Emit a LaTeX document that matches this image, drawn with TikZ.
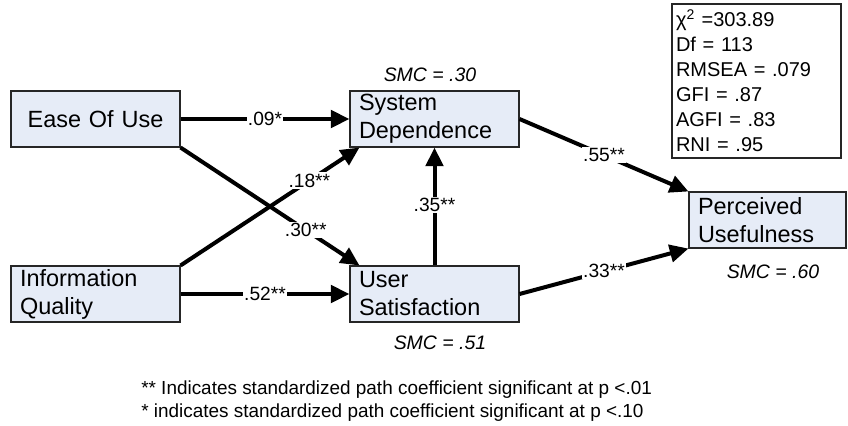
\documentclass[tikz,border=0pt]{standalone}
\usepackage{fontspec}
\setmainfont{Liberation Sans}
\usetikzlibrary{arrows.meta}
\definecolor{boxfill}{RGB}{230,236,247}
\begin{document}
\begin{tikzpicture}[x=0.75pt,y=-0.75pt,
  box/.style={draw=black!85, line width=0.8pt, fill=boxfill, inner xsep=6.75pt, inner ysep=0pt,
    minimum height=42pt, align=left, font=\fontsize{17.6}{21}\selectfont},
  wide/.style={text width=113.25pt},
  narrow/.style={text width=104.25pt},
  pathline/.style={line width=3pt, -{Triangle[length=14pt,width=13pt]}},
  coef/.style={fill=white, inner sep=1pt, font=\fontsize{14.4}{17}\selectfont},
  smc/.style={font=\fontsize{14.6}{17}\selectfont\itshape},
  stats/.style={draw=black!85, line width=0.8pt, fill=white, inner xsep=3pt, inner ysep=0pt,
    minimum height=115.5pt, text width=120.75pt, align=left, font=\fontsize{15}{18.75}\selectfont},
  note/.style={align=left, inner sep=0pt, font=\fontsize{14.2}{17.25}\selectfont},
]
\useasboundingbox (0,0) rectangle (848,425);

\node[box, wide, align=center] (eou) at (95.5,119) {Ease Of Use};
\node[box, wide] (sd) at (434.5,119) {System\\Dependence};
\node[box, wide] (iq) at (95.5,294) {Information\\Quality};
\node[box, wide] (us) at (434.5,294) {User\\Satisfaction};
\node[box, narrow] (pu) at (767.5,220) {Perceived\\Usefulness};

\node[stats] (fit) at (756.5,81) {χ\textsuperscript{2} =303.89\\Df = 113\\RMSEA = .079\\GFI = .87\\AGFI = .83\\RNI = .95};

\node[smc] (smcsd) at (430,75) {SMC = .30};
\node[smc] (smcus) at (440,343) {SMC = .51};
\node[smc] (smcpu) at (773,272) {SMC = .60};

\draw[pathline] (eou.east) -- node[coef, pos=0.5] {.09*} (sd.west);
\draw[pathline] (eou.south east) -- node[coef, pos=0.7] {.30**} ([xshift=7.5pt]us.north west);
\draw[pathline] (iq.north east) -- node[coef, pos=0.72] {.18**} ([xshift=7.5pt]sd.south west);
\draw[pathline] (iq.east) -- node[coef, pos=0.5] {.52**} (us.west);
\draw[pathline] (us.north) -- node[coef, pos=0.51] {.35**} (sd.south);
\draw[pathline] (sd.east) -- node[coef, pos=0.5] {.55**} (pu.north west);
\draw[pathline] (us.east) -- node[coef, pos=0.5] {.33**} (pu.south west);

\node[note, anchor=west] (notes) at (141,401) {** Indicates standardized path coefficient significant at p <.01\\* indicates standardized path coefficient significant at p <.10};
\end{tikzpicture}
\end{document}
